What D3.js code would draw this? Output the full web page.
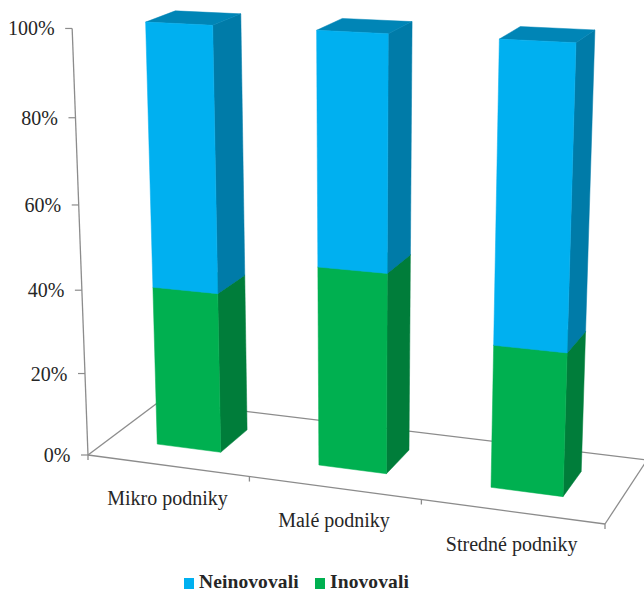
<!DOCTYPE html>
<html>
<head>
<meta charset="utf-8">
<script src="https://cdn.jsdelivr.net/npm/d3@7"></script>
<style>
  html, body { margin: 0; padding: 0; background: #fff; }
  svg { display: block; }
  text { font-family: "Liberation Serif", "Times New Roman", serif; fill: #262626; }
</style>
</head>
<body>
<svg id="chart" width="644" height="592"></svg>
<script>
// Data
const categories = ["Mikro podniky", "Malé podniky", "Stredné podniky"];
const inovovali = [38.5, 47, 33];
const neinovovali = [61.5, 53, 67];
const valueTicks = [0, 20, 40, 60, 80, 100];
const seriesNames = ["Inovovali", "Neinovovali"];

// Face colours per series: front, side, top
const palette = {
  Inovovali: { front: "#00B050", side: "#007D3A", top: "#00893F" },
  Neinovovali: { front: "#00B0F0", side: "#007BA8", top: "#0085B6" }
};

const svg = d3.select("#chart");

// Perspective camera: the floor is a quadrilateral on screen, verticals converge
// on a vanishing point far below the plot.
const floor = { fl: [88, 455], fr: [605, 524], br: [647, 460], bl: [160, 401] };
const nadir = [357, 7700];
const rise = -0.0556;

const dx1 = floor.fr[0] - floor.br[0], dx2 = floor.bl[0] - floor.br[0];
const dy1 = floor.fr[1] - floor.br[1], dy2 = floor.bl[1] - floor.br[1];
const sx = floor.fl[0] - floor.fr[0] + floor.br[0] - floor.bl[0];
const sy = floor.fl[1] - floor.fr[1] + floor.br[1] - floor.bl[1];
const det = dx1 * dy2 - dx2 * dy1;
const g = (sx * dy2 - dx2 * sy) / det;
const h = (dx1 * sy - sx * dy1) / det;

// u runs along the categories, w into the depth, v up the value axis (all 0..1)
function project(u, v, w) {
  const X = floor.fl[0] + u * (floor.fr[0] - floor.fl[0] + g * floor.fr[0]) + w * (floor.bl[0] - floor.fl[0] + h * floor.bl[0]) + v * rise * nadir[0];
  const Y = floor.fl[1] + u * (floor.fr[1] - floor.fl[1] + g * floor.fr[1]) + w * (floor.bl[1] - floor.fl[1] + h * floor.bl[1]) + v * rise * nadir[1];
  const Z = 1 + g * u + h * w + v * rise;
  return [X / Z, Y / Z];
}

const uScale = d3.scaleBand().domain(categories).range([0, 1]).paddingInner(0.6).paddingOuter(0.3);
const vScale = d3.scaleLinear().domain([0, 100]).range([0, 1]);
const depth = [0.3, 0.7];

const axisColor = "#8C8C8C";
const polyLine = d3.line();

// Floor outline
const floorGroup = svg.append("g").attr("fill", "none").attr("stroke", axisColor).attr("stroke-width", 1.3);
[[[0, 0, 1], [1, 0, 1]], [[0, 0, 0], [0, 0, 1]], [[1, 0, 0], [1, 0, 1]], [[0, 0, 0], [1, 0, 0]]].forEach(seg => {
  floorGroup.append("path").attr("d", polyLine(seg.map(p => project(...p))));
});

// Category ticks along the front edge of the floor
const edgeStops = d3.range(categories.length + 1).map(i => i / categories.length);
floorGroup.selectAll("path.cat-tick").data(edgeStops).join("path").attr("class", "cat-tick")
  .attr("d", u => { const p = project(u, 0, 0); return polyLine([p, [p[0], p[1] + 5]]); });

// Value axis
const valueAxis = svg.append("g");
valueAxis.append("path").attr("fill", "none").attr("stroke", axisColor).attr("stroke-width", 1.3)
  .attr("d", polyLine([project(0, 0, 0), project(0, 1, 0)]));
valueTicks.forEach(t => {
  const p = project(0, vScale(t), 0);
  valueAxis.append("path").attr("fill", "none").attr("stroke", axisColor).attr("stroke-width", 1.2)
    .attr("d", polyLine([p, [p[0] - 7, p[1]]]));
  valueAxis.append("text").attr("x", p[0] - 17.5).attr("y", p[1]).attr("dy", "0.35em")
    .attr("text-anchor", "end").attr("font-size", 20).text(t + "%");
});

// Stacked bars, drawn left to right so nearer faces overlap correctly
const rows = categories.map((c, i) => ({ category: c, Inovovali: inovovali[i], Neinovovali: neinovovali[i] }));
const stacked = d3.stack().keys(seriesNames)(rows);

const bars = svg.append("g");
categories.forEach((c, i) => {
  const u0 = uScale(c), u1 = u0 + uScale.bandwidth();
  const [w0, w1] = depth;
  stacked.forEach(layer => {
    const colors = palette[layer.key];
    const v0 = vScale(layer[i][0]), v1 = vScale(layer[i][1]);
    const face = (pts, fill) => bars.append("path")
      .attr("d", polyLine(pts.map(p => project(...p))) + "Z")
      .attr("fill", fill).attr("stroke", fill).attr("stroke-width", 0.5);
    face([[u1, v0, w0], [u1, v0, w1], [u1, v1, w1], [u1, v1, w0]], colors.side);
    face([[u0, v1, w0], [u1, v1, w0], [u1, v1, w1], [u0, v1, w1]], colors.top);
    face([[u0, v0, w0], [u1, v0, w0], [u1, v1, w0], [u0, v1, w0]], colors.front);
  });
});

// Category labels below the front edge
svg.append("g").selectAll("text").data(categories).join("text")
  .attr("x", c => project(uScale(c) + uScale.bandwidth() / 2, 0, 0)[0])
  .attr("y", c => project(uScale(c) + uScale.bandwidth() / 2, 0, 0)[1] + 39)
  .attr("text-anchor", "middle").attr("font-size", 20).text(c => c);

// Legend
const legendEntries = [
  { name: "Neinovovali", x: 184 },
  { name: "Inovovali", x: 315 }
];
const legend = svg.append("g");
legendEntries.forEach(e => {
  legend.append("rect").attr("x", e.x).attr("y", 578).attr("width", 10).attr("height", 11)
    .attr("fill", palette[e.name].front);
  legend.append("text").attr("x", e.x + 15).attr("y", 587.5)
    .attr("font-size", 19.5).attr("font-weight", "bold").attr("letter-spacing", 0.1).text(e.name);
});
</script>
</body>
</html>
